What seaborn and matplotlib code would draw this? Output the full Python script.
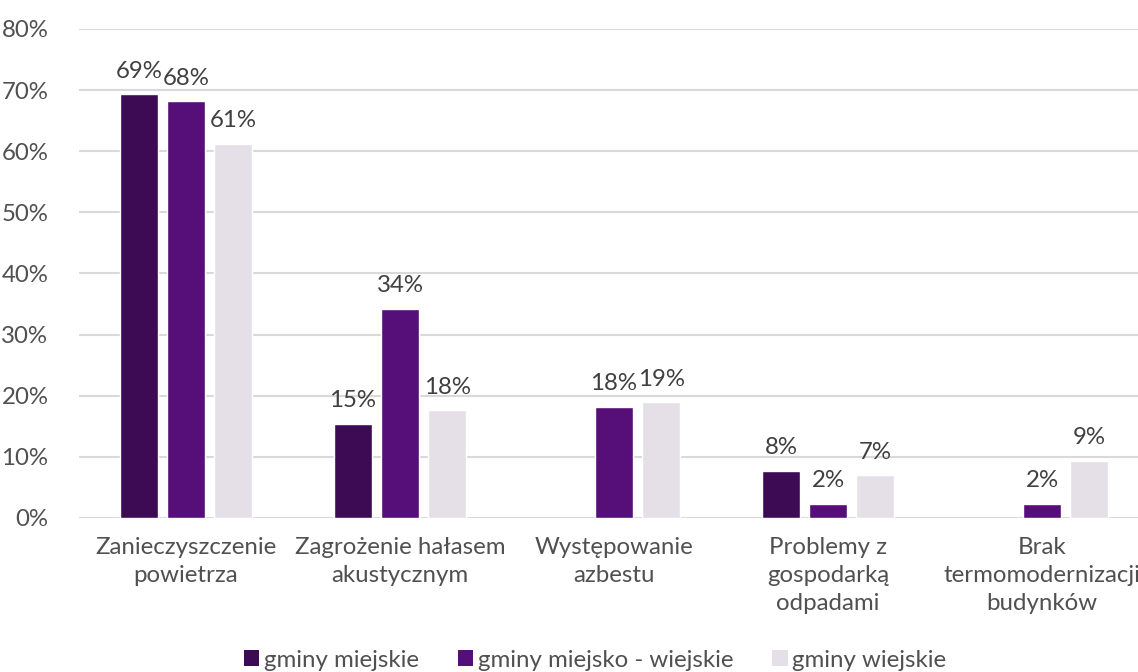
import numpy as np
import pandas as pd
import seaborn as sns
import matplotlib.pyplot as plt
from matplotlib.patches import Patch

categories = [
    "Zanieczyszczenie\npowietrza",
    "Zagrożenie hałasem\nakustycznym",
    "Występowanie\nazbestu",
    "Problemy z\ngospodarką\nodpadami",
    "Brak\ntermomodernizacji\nbudynków",
]
series = ["gminy miejskie", "gminy miejsko - wiejskie", "gminy wiejskie"]
miejskie = [69.3, 15.4, np.nan, 7.7, np.nan]
miejsko_wiejskie = [68.2, 34.2, 18.2, 2.3, 2.3]
wiejskie = [61.2, 17.6, 18.9, 7.0, 9.4]
colors = ["#3d0a54", "#560e78", "#e5e0e7"]

df = pd.DataFrame({
    "kategoria": categories * 3,
    "typ": [s for s in series for _ in categories],
    "wartosc": miejskie + miejsko_wiejskie + wiejskie,
})

sns.set_theme(style="white")
plt.rcParams["font.family"] = ["Lato", "DejaVu Sans"]
text_color = "#505050"
fs = 17.3

fig = plt.figure(figsize=(11.38, 6.72), dpi=100)
ax = fig.add_axes([0.0694, 0.2292, 0.9403, 0.7277])

sns.barplot(data=df, x="kategoria", y="wartosc", hue="typ", hue_order=series,
            palette=colors, saturation=1, width=0.66, gap=0.2, ax=ax, legend=False)

# etykiety wartości, bez pustych słupków
for cont in ax.containers:
    labels = []
    for bar in cont:
        h = bar.get_height()
        labels.append("" if np.isnan(h) else f"{h:.0f}%")
    ax.bar_label(cont, labels=labels, padding=9, fontsize=fs, color="#404040")

ax.set_ylim(0, 80)
ax.set_yticks(range(0, 81, 10))
ax.set_yticklabels([f"{v}%" for v in range(0, 81, 10)])
ax.yaxis.grid(True, color="#d9d9d9", linewidth=1.5)
ax.set_axisbelow(True)
for s in ax.spines.values():
    s.set_visible(False)
ax.set_xlabel("")
ax.set_ylabel("")
ax.tick_params(axis="x", labelsize=fs, labelcolor=text_color, pad=14, length=0)
ax.tick_params(axis="y", labelsize=fs, labelcolor=text_color, pad=22, length=0)
for t in ax.get_xticklabels():
    t.set_linespacing(1.4)

handles = [Patch(facecolor=c, edgecolor="none") for c in colors]
fig.legend(handles, series, loc="lower center", bbox_to_anchor=(0.523, -0.03), ncol=3,
           frameon=False, fontsize=fs, labelcolor=text_color, handlelength=0.65,
           handleheight=0.65, handletextpad=0.2, columnspacing=1.6)

plt.savefig("out.png", dpi=100)
